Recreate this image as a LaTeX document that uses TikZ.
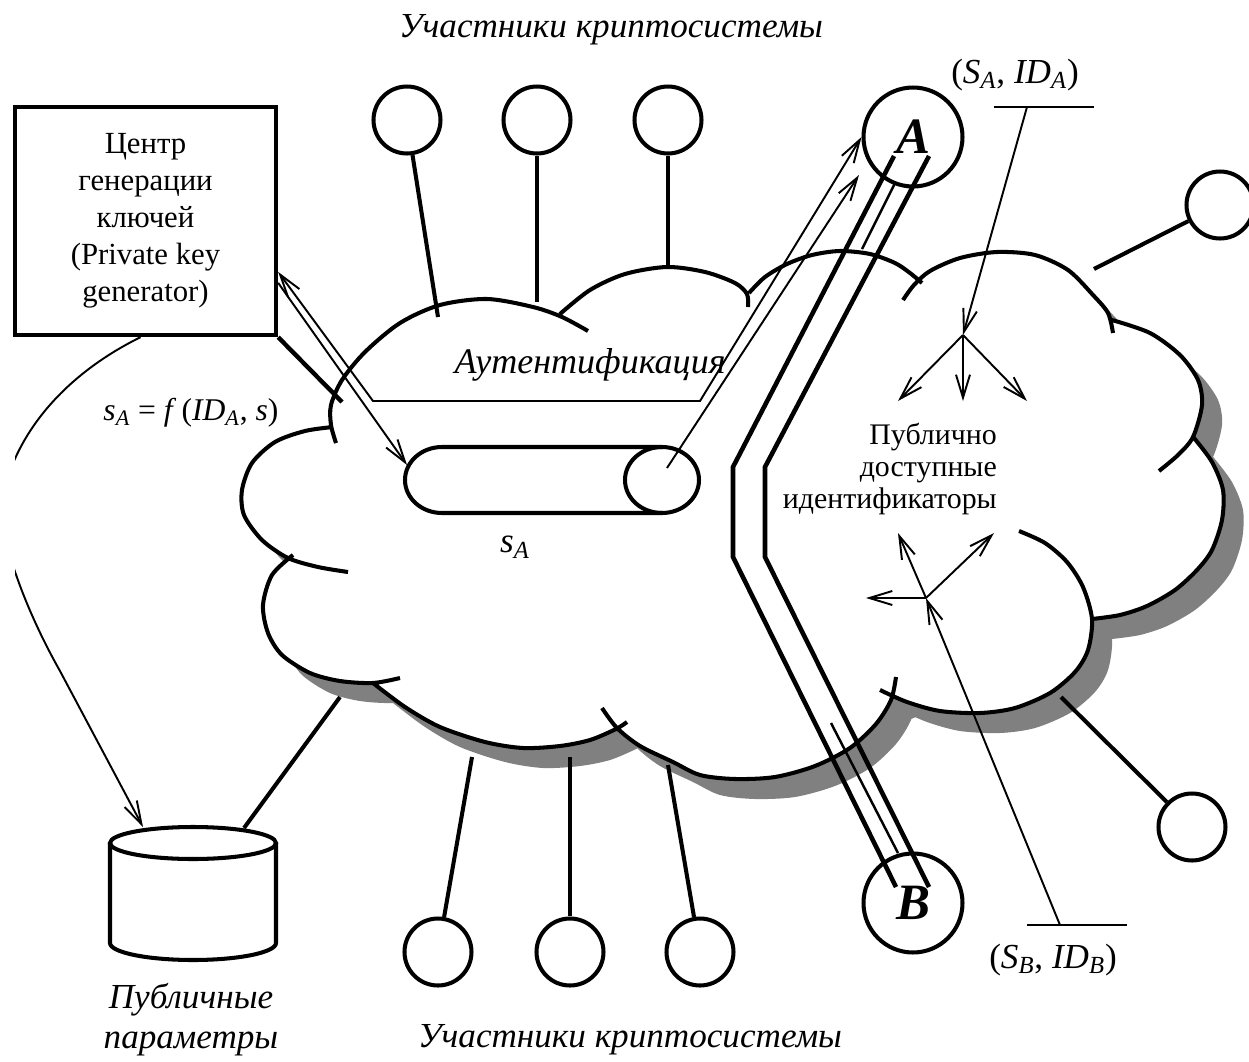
\documentclass[tikz,border=0pt]{standalone}
\usepackage{fontspec}
\setmainfont{Liberation Serif}
\usepackage{tikz}
\usetikzlibrary{arrows.meta, calc}

\newcommand{\lowidx}[1]{\textsubscript{\itshape #1}}

\tikzset{
  thickline/.style={line width=2.3pt},
  thinline/.style={line width=1.1pt},
  chanline/.style={line width=2.6pt},
  barb/.style={-{Straight Barb[length=4.6mm, width=2.8mm]}},
  member/.style={circle, draw, line width=2.3pt, minimum size=1.34cm, inner sep=0pt},
  party/.style={circle, draw, line width=2.3pt, minimum size=1.98cm, inner sep=0pt,
    font=\fontsize{29}{29}\selectfont\bfseries\itshape},
  caption/.style={font=\fontsize{20}{23}\selectfont\itshape, align=center},
  % cloud outline: one smooth arc per lobe, clockwise, with the small tails
  cloudlobes/.style={insert path={
    plot[smooth] coordinates {(348,572) (318,567) (288,558) (262,540) (244,515) (242,490) (252,463) (275,442) (305,431) (333,427)}
    plot[smooth] coordinates {(336,443) (331,425) (331,405) (342,380) (365,352) (400,323) (440,305) (487,299) (533,307) (562,317) (588,331)}
    plot[smooth] coordinates {(560,314) (590,290) (625,274) (667,267) (705,272) (735,283) (747,294) (748,307)}
    plot[smooth] coordinates {(749,293) (765,277) (787,264) (812,255) (840,251) (870,254) (895,263) (910,273) (922,283)}
    plot[smooth] coordinates {(903,300) (914,285) (930,271) (960,258) (997,252) (1035,255) (1068,270) (1093,295) (1108,313) (1113,333)}
    plot[smooth] coordinates {(1112,320) (1150,333) (1180,355) (1198,380) (1202,405) (1193,437) (1178,455) (1159,471)}
    plot[smooth] coordinates {(1194,438) (1212,462) (1223,490) (1222,520) (1212,550) (1197,570) (1175,590) (1147,606) (1120,615) (1092,619)}
    plot[smooth] coordinates {(1019,531) (1045,543) (1067,562) (1083,587) (1092,619) (1088,650) (1075,672) (1050,693) (1015,708) (980,713) (940,711) (907,702) (880,690)}
    plot[smooth] coordinates {(896,677) (891,700) (876,724) (850,748) (815,766) (775,777) (735,779) (700,775) (673,762) (640,746) (617,728) (602,708)}
    plot[smooth] coordinates {(627,722) (616,729) (590,740) (560,746) (523,748) (485,742) (440,727) (405,707) (373,683)}
    plot[smooth] coordinates {(400,678) (373,683) (340,681) (310,673) (282,655) (268,633) (263,605) (272,575) (293,555)}
  }},
  cloudcore/.style={insert path={
    (333,427) -- (562,316) -- (749,293) -- (916,280) -- (1112,320) -- (1194,438)
    -- (1092,619) -- (891,699) -- (616,728) -- (373,683) -- (288,558) -- cycle
  }}
}

\begin{document}
\begin{tikzpicture}[x=0.02cm, y=-0.02cm, line cap=butt]
  \useasboundingbox (0,0) rectangle (1249,1062);

  % --- Cloud with shadow ---
  \fill[black!50, shift={(20,20)}, cloudlobes, cloudcore];
  \fill[white, cloudlobes, cloudcore];
  \draw[thickline, cloudlobes];

  % --- Key generation centre and public parameters ---
  \node[draw, line width=2.5pt, minimum width=5.22cm, minimum height=4.56cm,
        align=center, font=\fontsize{17.5}{21}\selectfont] (pkg) at (145.5,221)
        {Центр\\генерации\\ключей\\(Private key\\generator)};

  % database drum
  \draw[thickline] (193,843) ellipse [x radius=83, y radius=16];
  \draw[thickline] (110,843) -- (110,943) arc[start angle=180, end angle=0, x radius=83, y radius=17] -- (276,843);
  \coordinate (dbtip) at (143,827);
  \coordinate (dbtop) at (244,828);
  \node[caption, font=\fontsize{20}{22.7}\selectfont\itshape] (dblabel) at (191,1020)
        {Публичные\\параметры};

  % --- Capsule holding the private key ---
  \coordinate (cap) at (552,480);
  \draw[thickline] (662,447) -- (442,447) arc[start angle=270, end angle=90, x radius=37, y radius=33] -- (662,513);
  \draw[thickline] (662,480) ellipse [x radius=37, y radius=33];
  \node[font=\fontsize{20}{20}\selectfont\itshape] (sa) at (515,547) {s\lowidx{A}};
  \node[font=\fontsize{18}{18}\selectfont] (keyf) at (191,413)
        {\textit{s}\lowidx{A} = \textit{f}\,(\textit{ID}\lowidx{A}, \textit{s})};
  \node[font=\fontsize{20.5}{20.5}\selectfont\itshape] (auth) at (590,365) {Аутентификация};

  % --- Participants ---
  \node[member] (p1) at (407,120) {};
  \node[member] (p2) at (537,120) {};
  \node[member] (p3) at (668,120) {};
  \node[member] (q1) at (438,952) {};
  \node[member] (q2) at (570,952) {};
  \node[member] (q3) at (700,952) {};
  \node[member] (r1) at (1220,205) {};
  \node[member] (r2) at (1192,827) {};
  \node[party] (A) at (913,137) {A};
  \node[party] (B) at (913,903) {B};

  \node[caption] (top) at (611,30) {Участники криптосистемы};
  \node[caption] (bottom) at (630,1040) {Участники криптосистемы};

  % attach points on the cloud
  \coordinate (c1) at (438,317);
  \coordinate (c2) at (537,302);
  \coordinate (c3) at (668,268);
  \coordinate (d1) at (472,757);
  \coordinate (d2) at (570,757);
  \coordinate (d3) at (668,765);
  \coordinate (e1) at (1094,269);
  \coordinate (e2) at (1061,697);
  \coordinate (dbc) at (340,697);

  \draw[thickline] (p1) -- (c1);
  \draw[thickline] (p2) -- (c2);
  \draw[thickline] (p3) -- (c3);
  \draw[thickline] (d1) -- (q1);
  \draw[thickline] (d2) -- (q2);
  \draw[thickline] (d3) -- (q3);
  \draw[thickline] (e1) -- (r1);
  \draw[thickline] (e2) -- (r2);
  \draw[thickline] (dbc) -- (dbtop);
  \draw[line width=2.5pt] (pkg.south east) -- (342,402);

  % --- Key delivery and authentication ---
  \coordinate (capin) at (407,465);
  \coordinate (capend) at (667,468);
  \coordinate (aend) at ($(A.center)+(-54,38)$);
  \draw[thinline, barb] (pkg.-25) -- (capin);
  \draw[thinline, {Straight Barb[length=4.6mm, width=2.8mm]}-{Straight Barb[length=4.6mm, width=2.8mm]}]
    (pkg.-21) -- (373,401) -- (700,401) -- (A.west);
  \draw[thinline, barb] (capend) -- (aend);

  \begin{scope}
    \clip (15,0) rectangle (1249,1062);
    \draw[thinline, barb] ($(pkg.south)+(-5,0)$) .. controls (62,376) and (14,436) .. (2,500)
      .. controls (-2,530) and (20,600) .. (60,671) -- (dbtip);
  \end{scope}

  % --- Channel between A and B ---
  \draw[chanline] ($(A.center)+(-19,19)$) -- (733,467) -- (733,557) -- ($(B.center)+(-17,-16)$);
  \draw[chanline] ($(A.center)+(16,19)$) -- (765,467) -- (765,557) -- ($(B.center)+(16,-16)$);
  \draw[line width=1.4pt] ($(A.center)+(-18,46)$) -- (862,249);
  \draw[line width=1.4pt] (831,723) -- ($(B.center)+(-15,-50)$);

  % --- Publicly available identifiers ---
  \node[anchor=east, align=right, font=\fontsize{17}{18.4}\selectfont] (ids) at (1003,469)
        {Публично\\доступные\\идентификаторы};

  \node[font=\fontsize{20}{20}\selectfont] (pa) at (1015,75)
        {(\textit{S}\lowidx{A}, \textit{ID}\lowidx{A})};
  \node[font=\fontsize{20}{20}\selectfont] (pb) at (1053,960)
        {(\textit{S}\lowidx{B}, \textit{ID}\lowidx{B})};
  \coordinate (paL) at (994,107);
  \coordinate (paR) at (1094,107);
  \coordinate (paM) at (1027,107);
  \coordinate (pbL) at (1027,925);
  \coordinate (pbR) at (1127,925);
  \coordinate (pbM) at (1060,925);
  \coordinate (hubA) at (963,335);
  \coordinate (hubB) at (926,598);

  \draw[line width=1.6pt] (paL) -- (paR);
  \draw[line width=1.6pt] (pbL) -- (pbR);
  \draw[thinline, barb] (paM) -- (hubA);
  \foreach \tx in {898,963,1027}
    \draw[thinline, barb] (hubA) -- (\tx,401);
  \draw[thinline, barb] (pbM) -- (hubB);
  \draw[thinline, barb] (hubB) -- (898,533);
  \draw[thinline, barb] (hubB) -- (866,598);
  \draw[thinline, barb] (hubB) -- (994,533);
\end{tikzpicture}
\end{document}
